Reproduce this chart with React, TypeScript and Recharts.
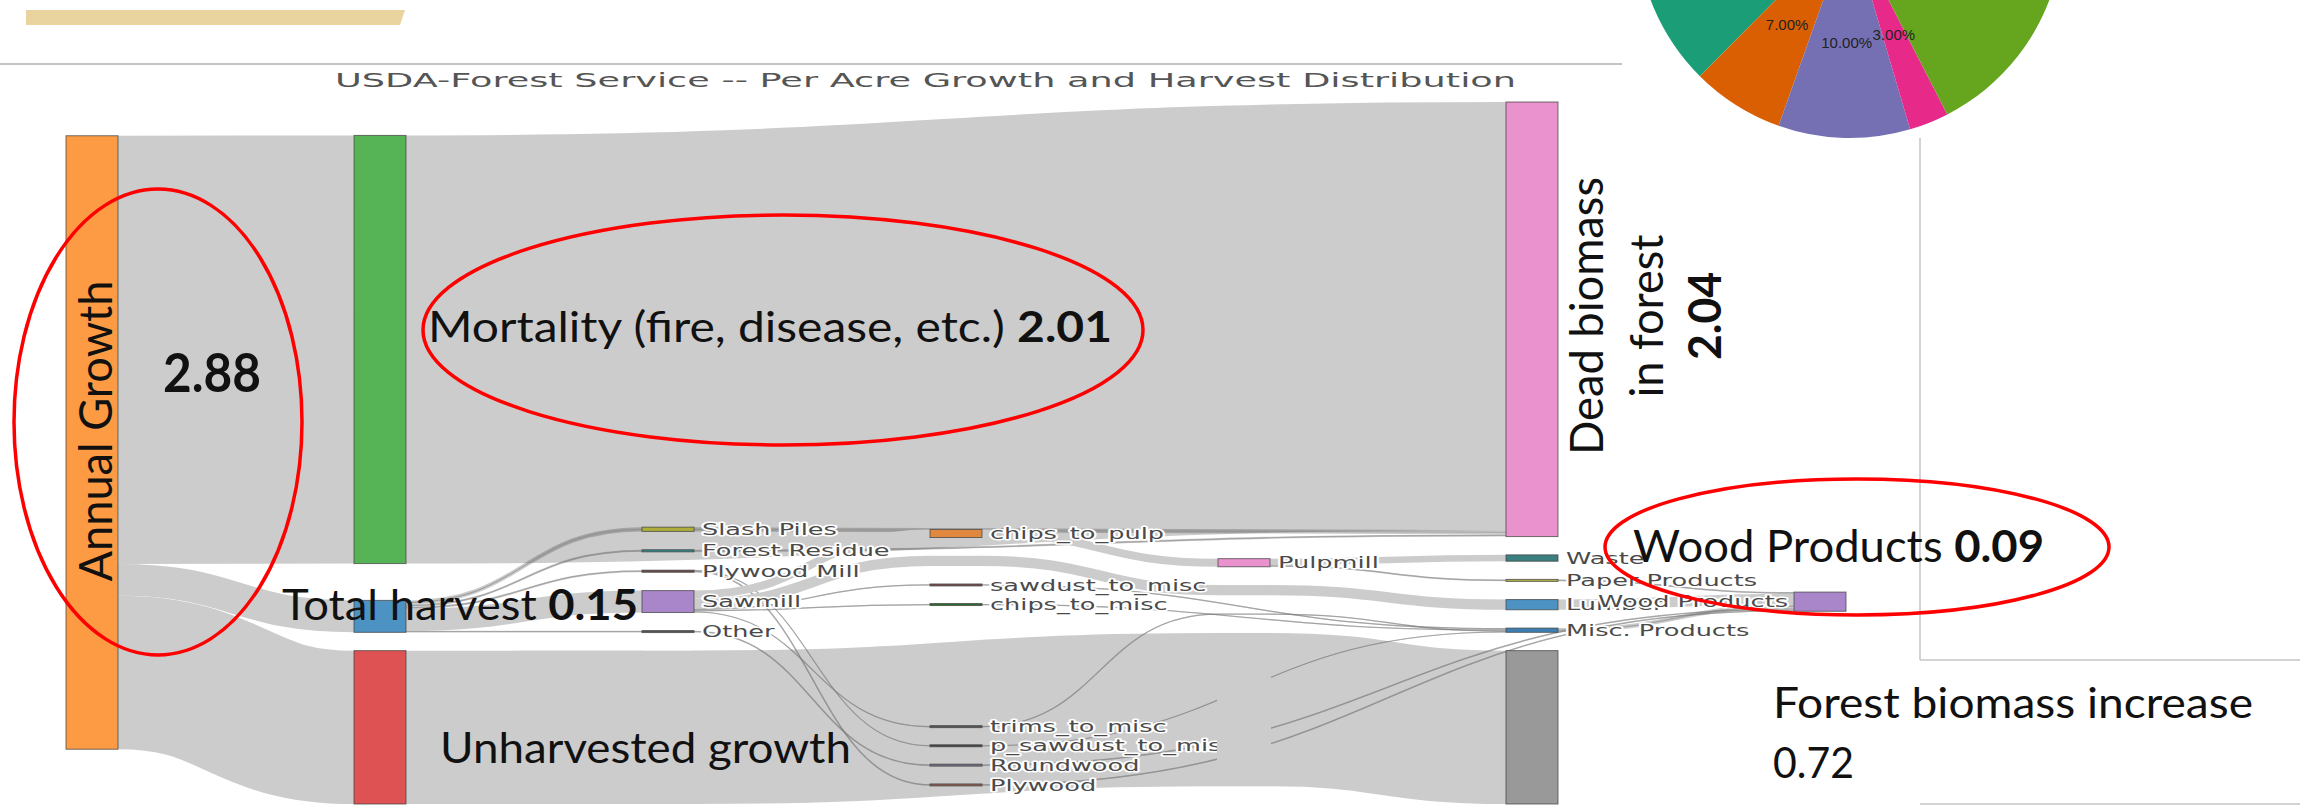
import React from 'react';
import { Sankey, PieChart, Pie, Cell } from 'recharts';

// Sankey nodes. "~" nodes carry a band across a column, "!" nodes only reserve space / set depth.
const nodeNames = [
  'Annual Growth', '!s0',
  'Mortality', '!s1',
  'Total harvest',
  'Unharvested growth',
  'Slash Piles', 'Forest Residue', 'Plywood Mill', 'Sawmill', 'Other', '~u2',
  'chips_to_pulp', '~l3', 'sawdust_to_misc', 'chips_to_misc', 'trims_to_misc',
  'p_sawdust_to_misc', 'Roundwood', 'Plywood', '!d3',
  'Pulpmill', '~l4', '~x4', '~u4',
  'Dead biomass in forest', 'Waste', 'Paper Products', 'Lumber', 'Misc. Products',
  'Forest biomass increase',
  'Wood Products',
];

// [source, target, value] per acre; values below 0.001 are layout-only ties (not drawn)
const flows: [string, string, number][] = [
  ['Annual Growth', 'Mortality', 2.01],
  ['Annual Growth', 'Total harvest', 0.15],
  ['Annual Growth', 'Unharvested growth', 0.72],
  ['!s0', '!s1', 0.001],
  ['Mortality', 'Dead biomass in forest', 2.01],
  ['Unharvested growth', '~u2', 0.72],
  ['~u2', '~u4', 0.72],
  ['~u2', '!d3', 0.0001],
  ['!d3', '~u4', 0.0001],
  ['~u4', 'Dead biomass in forest', 0.0001],
  ['~u4', 'Forest biomass increase', 0.72],
  ['Total harvest', 'Slash Piles', 0.02],
  ['Total harvest', 'Forest Residue', 0.01],
  ['Total harvest', 'Plywood Mill', 0.01],
  ['Total harvest', 'Sawmill', 0.103],
  ['Total harvest', 'Other', 0.007],
  ['Slash Piles', 'Dead biomass in forest', 0.02],
  ['Forest Residue', 'Dead biomass in forest', 0.01],
  ['Plywood Mill', 'p_sawdust_to_misc', 0.003],
  ['Plywood Mill', 'Plywood', 0.007],
  ['Sawmill', 'chips_to_pulp', 0.038],
  ['Sawmill', '~l3', 0.048],
  ['Sawmill', 'sawdust_to_misc', 0.006],
  ['Sawmill', 'chips_to_misc', 0.006],
  ['Sawmill', 'trims_to_misc', 0.005],
  ['Other', 'Roundwood', 0.007],
  ['~l3', '~l4', 0.048],
  ['~l4', 'Lumber', 0.048],
  ['chips_to_pulp', 'Pulpmill', 0.038],
  ['Pulpmill', 'Waste', 0.03],
  ['Pulpmill', 'Paper Products', 0.008],
  ['sawdust_to_misc', 'Misc. Products', 0.006],
  ['chips_to_misc', 'Misc. Products', 0.006],
  ['trims_to_misc', '~x4', 0.005],
  ['~x4', 'Misc. Products', 0.005],
  ['p_sawdust_to_misc', 'Misc. Products', 0.003],
  ['Lumber', 'Wood Products', 0.048],
  ['Paper Products', 'Wood Products', 0.008],
  ['Misc. Products', 'Wood Products', 0.02],
  ['Roundwood', 'Wood Products', 0.007],
  ['Plywood', 'Wood Products', 0.007],
];

// pie in the top-right corner (only its lower part is on the slide)
const pieKeys = ['a', 'b', 'c', 'd', 'e'];
const pieValues = [25, 7, 10, 3, 55];

const PIE_COLORS = ['#1b9e77', '#d95f02', '#7570b3', '#e7298a', '#66a61e'];

const NODE_COLORS: Record<string, string> = {
  'Annual Growth': '#fd9b44',
  Mortality: '#56b356',
  'Total harvest': '#4c92c3',
  'Unharvested growth': '#de5253',
  'Slash Piles': '#aeae3a',
  'Forest Residue': '#2f8585',
  'Plywood Mill': '#6b4a4a',
  Sawmill: '#a985ca',
  Other: '#555555',
  chips_to_pulp: '#e0893e',
  sawdust_to_misc: '#7a4f4f',
  chips_to_misc: '#2b6b2b',
  trims_to_misc: '#555555',
  p_sawdust_to_misc: '#444444',
  Roundwood: '#77708a',
  Plywood: '#8c5e50',
  Pulpmill: '#e992ce',
  Waste: '#3b7f7f',
  'Paper Products': '#b3b246',
  Lumber: '#4c92c3',
  'Misc. Products': '#3d7fb3',
  'Dead biomass in forest': '#e992ce',
  'Forest biomass increase': '#999999',
  'Wood Products': '#a985ca',
};

const BIG_NODES = new Set([
  'Annual Growth',
  'Mortality',
  'Total harvest',
  'Unharvested growth',
  'Dead biomass in forest',
  'Forest biomass increase',
]);

const sankeyData = {
  nodes: nodeNames.map((name) => ({ name })),
  links: flows.map(([s, t, v]) => ({
    source: nodeNames.indexOf(s),
    target: nodeNames.indexOf(t),
    value: v,
  })),
};

const BAND = '#cccccc';
const LABEL_FONT = '"DejaVu Sans", Verdana, sans-serif';
const NOTE_FONT = 'Lato, "Open Sans", sans-serif';

function SankeyNode(props: any) {
  const { x, y, width, height, payload } = props;
  const name: string = payload.name;
  if (name.startsWith('!')) return <g />;
  if (name.startsWith('~')) {
    if (height >= 6) {
      return <rect x={x - 1} y={y} width={width + 2} height={height} fill={BAND} />;
    }
    return (
      <g>
        <rect x={x} y={y} width={width} height={Math.max(height, 1)} fill="#000" fillOpacity={0.2} />
        <line x1={x} x2={x + width} y1={y + height / 2} y2={y + height / 2} stroke="#888" strokeOpacity={0.6} strokeWidth={1.2} />
      </g>
    );
  }
  const h = Math.max(height, 2);
  const cy = y + height / 2;
  const leftLabel = name === 'Wood Products';
  const lx = leftLabel ? x - 6 : x + width + 8;
  return (
    <g>
      <rect
        x={x}
        y={cy - h / 2}
        width={width}
        height={h}
        fill={NODE_COLORS[name]}
        stroke="#444"
        strokeOpacity={0.75}
        strokeWidth={1}
      />
      {!BIG_NODES.has(name) && (
        <text
          transform={`translate(${lx},${cy}) scale(1.6,1)`}
          textAnchor={leftLabel ? 'end' : 'start'}
          dominantBaseline="central"
          fontFamily={LABEL_FONT}
          fontSize={16}
          fill="#4a4a4a"
          stroke="#fff"
          strokeWidth={3}
          strokeLinejoin="round"
          paintOrder="stroke"
        >
          {name}
        </text>
      )}
    </g>
  );
}

function SankeyLink(props: any) {
  const { sourceX, sourceY, sourceControlX, targetX, targetY, targetControlX, linkWidth, payload } = props;
  const src: string = payload?.source?.name ?? '';
  const tgt: string = payload?.target?.name ?? '';
  if (src.startsWith('!') || tgt.startsWith('!') || (payload?.value ?? 1) < 0.001) return <g />;
  const d = `M${sourceX},${sourceY} C${sourceControlX},${sourceY} ${targetControlX},${targetY} ${targetX},${targetY}`;
  if (linkWidth >= 6) {
    return <path d={d} fill="none" stroke={BAND} strokeWidth={linkWidth} />;
  }
  return (
    <g>
      <path d={d} fill="none" stroke="#000" strokeOpacity={0.2} strokeWidth={Math.max(linkWidth, 1)} />
      <path d={d} fill="none" stroke="#888" strokeOpacity={0.6} strokeWidth={1.2} />
    </g>
  );
}

const RAD = Math.PI / 180;

function PieLabel(props: any) {
  const { cx, cy, midAngle, percent } = props;
  const r = 118;
  const x = cx + r * Math.cos(-midAngle * RAD);
  const y = cy + r * Math.sin(-midAngle * RAD);
  return (
    <text
      x={x}
      y={y}
      textAnchor="middle"
      dominantBaseline="central"
      fontFamily='"Liberation Sans Narrow", "Liberation Sans", sans-serif'
      fontSize={15}
      fill="#222"
    >
      {`${(percent * 100).toFixed(2)}%`}
    </text>
  );
}

export default function App() {
  const pieData = pieKeys.map((key, i) => ({ key, value: pieValues[i] }));
  return (
    <div
      style={{
        position: 'absolute',
        left: 0,
        top: 0,
        width: 2313,
        height: 805,
        overflow: 'hidden',
        background: '#fff',
        fontFamily: NOTE_FONT,
      }}
    >
      <div style={{ position: 'absolute', left: 0, top: 0 }}>
        <Sankey
          width={1900}
          height={805}
          data={sankeyData}
          nodeWidth={52}
          nodePadding={18.3}
          iterations={64}
          sort={false}
          align="left"
          margin={{ top: 102, right: 54, bottom: 1, left: 66 }}
          node={SankeyNode}
          link={SankeyLink}
        />
      </div>

      <div style={{ position: 'absolute', left: 1595, top: -330 }}>
        <PieChart width={500} height={500}>
          <Pie
            data={pieData}
            dataKey="value"
            nameKey="key"
            cx={250}
            cy={250}
            outerRadius={213}
            startAngle={135.2}
            endAngle={495.2}
            stroke="none"
            labelLine={false}
            label={PieLabel}
            isAnimationActive={false}
          >
            {pieData.map((d, i) => (
              <Cell key={d.key} fill={PIE_COLORS[i]} />
            ))}
          </Pie>
        </PieChart>
      </div>

      <svg
        width={2313}
        height={805}
        style={{ position: 'absolute', left: 0, top: 0, pointerEvents: 'none' }}
      >
        {/* slide decoration */}
        <polygon points="26,10 405,10 400,25 26,25" fill="#e9d4a0" />
        <line x1={0} x2={1622} y1={64} y2={64} stroke="#c4c4c4" strokeWidth={2} />
        <line x1={1920} x2={1920} y1={138} y2={660} stroke="#c4c4c4" strokeWidth={1.5} />
        <line x1={1920} x2={2300} y1={660} y2={660} stroke="#c4c4c4" strokeWidth={1.5} />
        <line x1={1920} x2={2300} y1={804} y2={804} stroke="#c4c4c4" strokeWidth={1.5} />

        <text
          x={335}
          y={87}
          fontFamily={LABEL_FONT}
          fontSize={20}
          fill="#555"
          textLength={1181}
          lengthAdjust="spacingAndGlyphs"
        >
          USDA-Forest Service -- Per Acre Growth and Harvest Distribution
        </text>

        {/* annotations */}
        <g fontFamily={NOTE_FONT} fill="#111">
          <text
            transform="translate(112,431) rotate(-90)"
            textAnchor="middle"
            fontSize={46}
            textLength={301}
            lengthAdjust="spacingAndGlyphs"
          >
            Annual Growth
          </text>
          <text x={163} y={392} fontSize={53} fontWeight={700} textLength={98} lengthAdjust="spacingAndGlyphs">
            2.88
          </text>
          <text x={428} y={342} fontSize={42} textLength={684} lengthAdjust="spacingAndGlyphs">
            Mortality (fire, disease, etc.) <tspan fontWeight={700}>2.01</tspan>
          </text>
          <text x={282} y={620} fontSize={42} textLength={356} lengthAdjust="spacingAndGlyphs">
            Total harvest <tspan fontWeight={700}>0.15</tspan>
          </text>
          <text x={440} y={763} fontSize={42} textLength={411} lengthAdjust="spacingAndGlyphs">
            Unharvested growth
          </text>
          <text
            transform="translate(1603,316) rotate(-90)"
            textAnchor="middle"
            fontSize={46}
            textLength={278}
            lengthAdjust="spacingAndGlyphs"
          >
            Dead biomass
          </text>
          <text
            transform="translate(1663,316) rotate(-90)"
            textAnchor="middle"
            fontSize={46}
            textLength={163}
            lengthAdjust="spacingAndGlyphs"
          >
            in forest
          </text>
          <text
            transform="translate(1721,316) rotate(-90)"
            textAnchor="middle"
            fontSize={46}
            fontWeight={700}
            textLength={88}
            lengthAdjust="spacingAndGlyphs"
          >
            2.04
          </text>
          <text x={1633} y={562} fontSize={44} textLength={411} lengthAdjust="spacingAndGlyphs">
            Wood Products <tspan fontWeight={700}>0.09</tspan>
          </text>
          <text x={1773} y={718} fontSize={42} textLength={480} lengthAdjust="spacingAndGlyphs">
            Forest biomass increase
          </text>
          <text x={1773} y={778} fontSize={42} textLength={81} lengthAdjust="spacingAndGlyphs">
            0.72
          </text>
        </g>

        <g fill="none" stroke="#ff0000" strokeWidth={3.5}>
          <ellipse cx={158} cy={422} rx={144} ry={233} />
          <ellipse cx={783} cy={330} rx={360} ry={115} />
          <ellipse cx={1857} cy={547} rx={252} ry={68} />
        </g>
      </svg>
    </div>
  );
}
